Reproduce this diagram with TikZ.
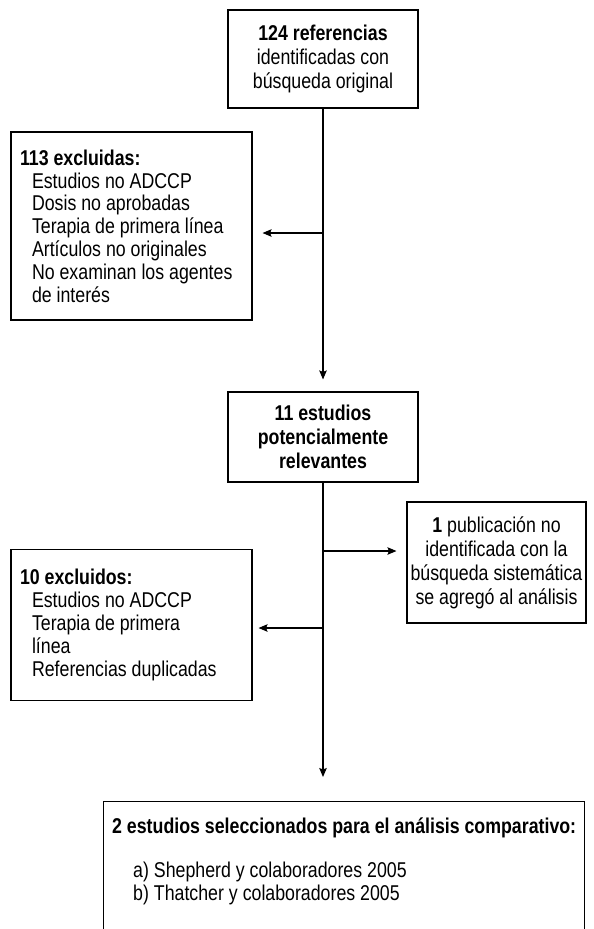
\documentclass[tikz,border=0pt]{standalone}
\usepackage{fontspec}
\setmainfont[FakeStretch=0.83]{Liberation Sans}
\usetikzlibrary{arrows.meta,calc}
\tikzset{
  txt/.style={font=\fontsize{21.4}{24}\selectfont},
  ltxt/.style={font=\fontsize{21.4}{22.8}\selectfont},
  box/.style={draw, line width=1.1pt, inner sep=0pt},
  cbox/.style={box, txt, align=center},
  lbox/.style={box, ltxt, align=flush left, inner xsep=9pt},
  arr/.style={line width=1.1pt, -{Stealth[length=9pt,width=7.5pt,inset=1.5pt]}},
}
\begin{document}
\begin{tikzpicture}[x=1pt,y=1pt]
\useasboundingbox (0,0) rectangle (594,-929);
\fill[white] (0,0) rectangle (594,-929);

\node[cbox, minimum width=190, minimum height=98] (b1) at (323,-59)
  {\textbf{124 referencias}\\identificadas con\\búsqueda original};

\node[lbox, minimum width=241, minimum height=188, text width=223] (b2) at (131.5,-226)
  {\textbf{113 excluidas:}\\
   \hspace*{12pt}Estudios no ADCCP\\
   \hspace*{12pt}Dosis no aprobadas\\
   \hspace*{12pt}Terapia de primera línea\\
   \hspace*{12pt}Artículos no originales\\
   \hspace*{12pt}No examinan los agentes\\
   \hspace*{12pt}de interés};

\node[cbox, minimum width=190, minimum height=90] (b3) at (323,-437)
  {\textbf{11 estudios}\\\textbf{potencialmente}\\\textbf{relevantes}};

\node[cbox, minimum width=179, minimum height=121] (b5) at (496.5,-562.5)
  {\textbf{1} publicación no\\identificada con la\\búsqueda sistemática\\se agregó al análisis};

\node[lbox, minimum width=241, minimum height=151, text width=223] (b4) at (131.5,-625)
  {\textbf{10 excluidos:}\\
   \hspace*{12pt}Estudios no ADCCP\\
   \hspace*{12pt}Terapia de primera\\
   \hspace*{12pt}línea\\
   \hspace*{12pt}Referencias duplicadas};

\node[box, minimum width=481, minimum height=160, anchor=north west] (b6) at (103,-801) {};
\node[ltxt, align=flush left, anchor=north west, inner sep=0pt] (t6) at (112,-818)
  {\textbf{2 estudios seleccionados para el análisis comparativo:}\\[21pt]
   \hspace*{21pt}a) Shepherd y colaboradores 2005\\
   \hspace*{21pt}b) Thatcher y colaboradores 2005};

\coordinate (j1) at (323,-233);
\coordinate (j2) at (323,-551);
\coordinate (j3) at (323,-628);

\draw[arr, shorten >=12pt] (b1.south) -- (b3.north);
\draw[arr, shorten >=10pt] (j1) -- (j1 -| b2.east);
\draw[arr, shorten >=24pt] (b3.south) -- (b3.south |- b6.north);
\draw[arr, shorten >=10pt] (j2) -- (j2 -| b5.west);
\draw[arr, shorten >=6pt] (j3) -- (j3 -| b4.east);
\end{tikzpicture}
\end{document}
